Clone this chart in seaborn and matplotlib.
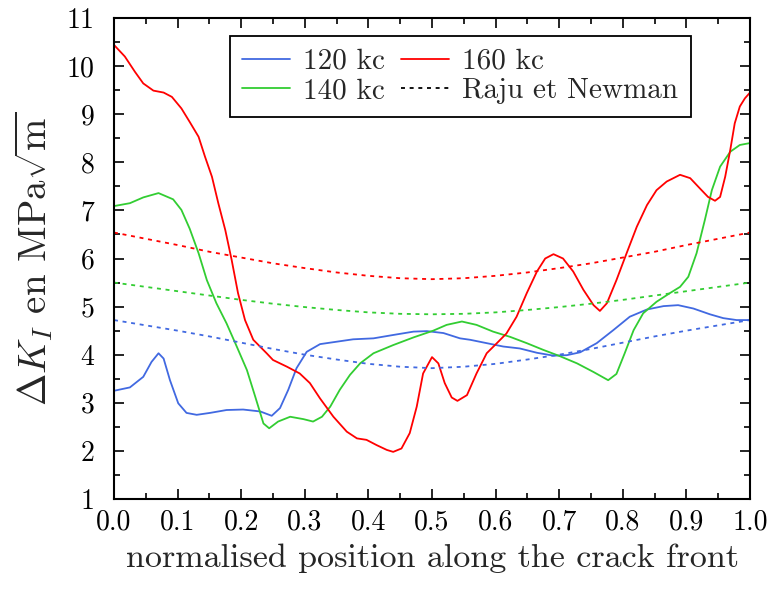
import numpy as np
import pandas as pd
import matplotlib
matplotlib.use("Agg")
import matplotlib.pyplot as plt
import seaborn as sns
from matplotlib.ticker import MultipleLocator, FormatStrFormatter
from matplotlib.lines import Line2D

# ---- data ----
x_120 = [0.0, 0.025, 0.046, 0.059, 0.070, 0.078, 0.088, 0.101, 0.114, 0.130, 0.151, 0.177,
         0.203, 0.230, 0.248, 0.261, 0.274, 0.287, 0.303, 0.324, 0.350, 0.376, 0.408, 0.439,
         0.471, 0.492, 0.518, 0.544, 0.560, 0.586, 0.612, 0.638, 0.665, 0.691, 0.712, 0.733,
         0.759, 0.785, 0.811, 0.838, 0.864, 0.887, 0.911, 0.937, 0.958, 0.979, 1.0]
y_120 = [3.25, 3.32, 3.54, 3.85, 4.03, 3.92, 3.47, 2.99, 2.79, 2.75, 2.79, 2.85,
         2.86, 2.82, 2.73, 2.89, 3.27, 3.72, 4.06, 4.22, 4.27, 4.32, 4.34, 4.41,
         4.48, 4.49, 4.45, 4.34, 4.31, 4.24, 4.17, 4.13, 4.04, 3.98, 3.99, 4.05,
         4.24, 4.51, 4.79, 4.94, 5.01, 5.03, 4.96, 4.84, 4.76, 4.72, 4.72]

x_140 = [0.0, 0.025, 0.046, 0.070, 0.093, 0.106, 0.119, 0.133, 0.146, 0.161, 0.177, 0.193,
         0.209, 0.222, 0.235, 0.244, 0.258, 0.277, 0.298, 0.313, 0.327, 0.340, 0.355, 0.371,
         0.387, 0.408, 0.439, 0.471, 0.502, 0.523, 0.547, 0.570, 0.596, 0.623, 0.649, 0.675,
         0.701, 0.728, 0.754, 0.777, 0.790, 0.803, 0.817, 0.832, 0.853, 0.874, 0.890, 0.903,
         0.916, 0.929, 0.940, 0.953, 0.969, 0.984, 1.0]
y_140 = [7.09, 7.15, 7.27, 7.36, 7.23, 7.01, 6.62, 6.11, 5.55, 5.07, 4.65, 4.17,
         3.68, 3.13, 2.57, 2.47, 2.61, 2.71, 2.66, 2.61, 2.71, 2.92, 3.27, 3.58,
         3.82, 4.03, 4.20, 4.36, 4.50, 4.62, 4.69, 4.62, 4.48, 4.37, 4.24, 4.10,
         3.97, 3.82, 3.64, 3.47, 3.60, 4.03, 4.51, 4.86, 5.10, 5.28, 5.41, 5.62,
         6.11, 6.80, 7.42, 7.91, 8.22, 8.36, 8.40]

x_160 = [0.0, 0.017, 0.033, 0.046, 0.062, 0.078, 0.091, 0.106, 0.119, 0.133, 0.143, 0.154,
         0.164, 0.175, 0.185, 0.195, 0.206, 0.219, 0.240, 0.250, 0.272, 0.292, 0.308, 0.324,
         0.345, 0.366, 0.382, 0.397, 0.413, 0.429, 0.439, 0.452, 0.465, 0.476, 0.486, 0.500,
         0.510, 0.520, 0.531, 0.540, 0.555, 0.570, 0.586, 0.602, 0.617, 0.633, 0.649, 0.665,
         0.678, 0.691, 0.706, 0.722, 0.738, 0.754, 0.764, 0.775, 0.790, 0.806, 0.822, 0.838,
         0.853, 0.869, 0.890, 0.906, 0.921, 0.934, 0.945, 0.953, 0.961, 0.969, 0.976, 0.984,
         0.992, 1.0]
y_160 = [10.44, 10.20, 9.88, 9.64, 9.49, 9.45, 9.36, 9.12, 8.84, 8.53, 8.12, 7.70,
         7.15, 6.59, 5.97, 5.28, 4.72, 4.31, 4.03, 3.89, 3.75, 3.61, 3.41, 3.09,
         2.71, 2.40, 2.26, 2.23, 2.12, 2.02, 1.98, 2.05, 2.37, 2.92, 3.61, 3.95,
         3.82, 3.41, 3.11, 3.04, 3.16, 3.61, 4.03, 4.24, 4.44, 4.79, 5.28, 5.73,
         6.00, 6.09, 6.00, 5.73, 5.35, 5.03, 4.91, 5.07, 5.55, 6.11, 6.66, 7.11,
         7.42, 7.60, 7.74, 7.67, 7.46, 7.28, 7.20, 7.28, 7.70, 8.26, 8.81, 9.16,
         9.33, 9.45]

x_rn = [0.0, 0.05, 0.1, 0.15, 0.2, 0.25, 0.3, 0.35, 0.4, 0.45, 0.5,
        0.55, 0.6, 0.65, 0.7, 0.75, 0.8, 0.85, 0.9, 0.95, 1.0]
rn_120 = [4.72, 4.61, 4.50, 4.38, 4.25, 4.12, 4.00, 3.90, 3.81, 3.75, 3.72,
          3.75, 3.81, 3.90, 4.00, 4.12, 4.25, 4.38, 4.50, 4.61, 4.72]
rn_140 = [5.50, 5.41, 5.32, 5.23, 5.14, 5.06, 4.99, 4.93, 4.88, 4.85, 4.84,
          4.85, 4.88, 4.93, 4.99, 5.06, 5.14, 5.23, 5.32, 5.41, 5.50]
rn_160 = [6.54, 6.41, 6.28, 6.14, 6.02, 5.90, 5.80, 5.71, 5.64, 5.59, 5.57,
          5.59, 5.64, 5.71, 5.80, 5.90, 6.02, 6.14, 6.28, 6.41, 6.54]

labels = ["120 kc", "140 kc", "160 kc"]
legend_labels = ["120 kc", "140 kc", "160 kc", "Raju et Newman"]
colors = {"120 kc": "#4169e1", "140 kc": "#32cd32", "160 kc": "#ff0000"}

# ---- style ----
sns.set_style("ticks")
plt.rcParams["font.family"] = ["serif"]
plt.rcParams["font.serif"] = ["cmr10", "DejaVu Serif"]
plt.rcParams["mathtext.fontset"] = "cm"
plt.rcParams["axes.formatter.use_mathtext"] = True
plt.rcParams["axes.unicode_minus"] = False

fig = plt.figure(figsize=(7.73, 5.90), dpi=100)
ax = fig.add_axes([114 / 773, 91 / 590, 636 / 773, 481 / 590])

meas = pd.concat([
    pd.DataFrame({"x": x_120, "y": y_120, "s": "120 kc"}),
    pd.DataFrame({"x": x_140, "y": y_140, "s": "140 kc"}),
    pd.DataFrame({"x": x_160, "y": y_160, "s": "160 kc"}),
])
rn = pd.concat([
    pd.DataFrame({"x": x_rn, "y": rn_120, "s": "120 kc"}),
    pd.DataFrame({"x": x_rn, "y": rn_140, "s": "140 kc"}),
    pd.DataFrame({"x": x_rn, "y": rn_160, "s": "160 kc"}),
])

dash = (0, (2.2, 2.6))
sns.lineplot(data=meas, x="x", y="y", hue="s", palette=colors, hue_order=labels,
             ax=ax, lw=1.3, legend=False, sort=False)
for s in labels:
    d = rn[rn.s == s]
    sns.lineplot(x=d.x, y=d.y, color=colors[s], ax=ax, lw=1.3,
                 linestyle=dash, legend=False, sort=False)

ax.set_xlim(0, 1)
ax.set_ylim(1, 11)
ax.xaxis.set_major_locator(MultipleLocator(0.1))
ax.xaxis.set_minor_locator(MultipleLocator(0.05))
ax.yaxis.set_major_locator(MultipleLocator(1))
ax.yaxis.set_minor_locator(MultipleLocator(0.5))
ax.xaxis.set_major_formatter(FormatStrFormatter("%.1f"))
ax.yaxis.set_major_formatter(FormatStrFormatter("%d"))
ax.tick_params(which="both", direction="in", top=True, right=True, width=1.2,
               labelsize=20, colors="black")
ax.tick_params(which="major", length=7)
ax.tick_params(which="minor", length=4)
ax.tick_params(axis="x", which="major", pad=7)
ax.tick_params(axis="y", which="major", pad=14)
for sp in ax.spines.values():
    sp.set_linewidth(1.5)
    sp.set_color("black")

ax.set_xlabel("normalised position along the crack front", fontsize=24.5, labelpad=6)
ax.set_ylabel(r"$\Delta K_I$ en MPa$\sqrt{\mathrm{m}}$", fontsize=28, labelpad=8)

handles = [Line2D([], [], color=colors["120 kc"], lw=1.3),
           Line2D([], [], color=colors["140 kc"], lw=1.3),
           Line2D([], [], color=colors["160 kc"], lw=1.3),
           Line2D([], [], color="black", lw=1.3, linestyle=dash)]
leg = ax.legend(handles, legend_labels, ncol=2,
                loc="upper left", bbox_to_anchor=(0.182, 0.962), fontsize=21,
                frameon=True, fancybox=False, edgecolor="black", framealpha=1,
                handlelength=1.65, columnspacing=0.55, handletextpad=0.45,
                borderpad=0.42, labelspacing=0.1, borderaxespad=0)
leg.get_frame().set_linewidth(1.3)

fig.savefig("out.png", dpi=100)
